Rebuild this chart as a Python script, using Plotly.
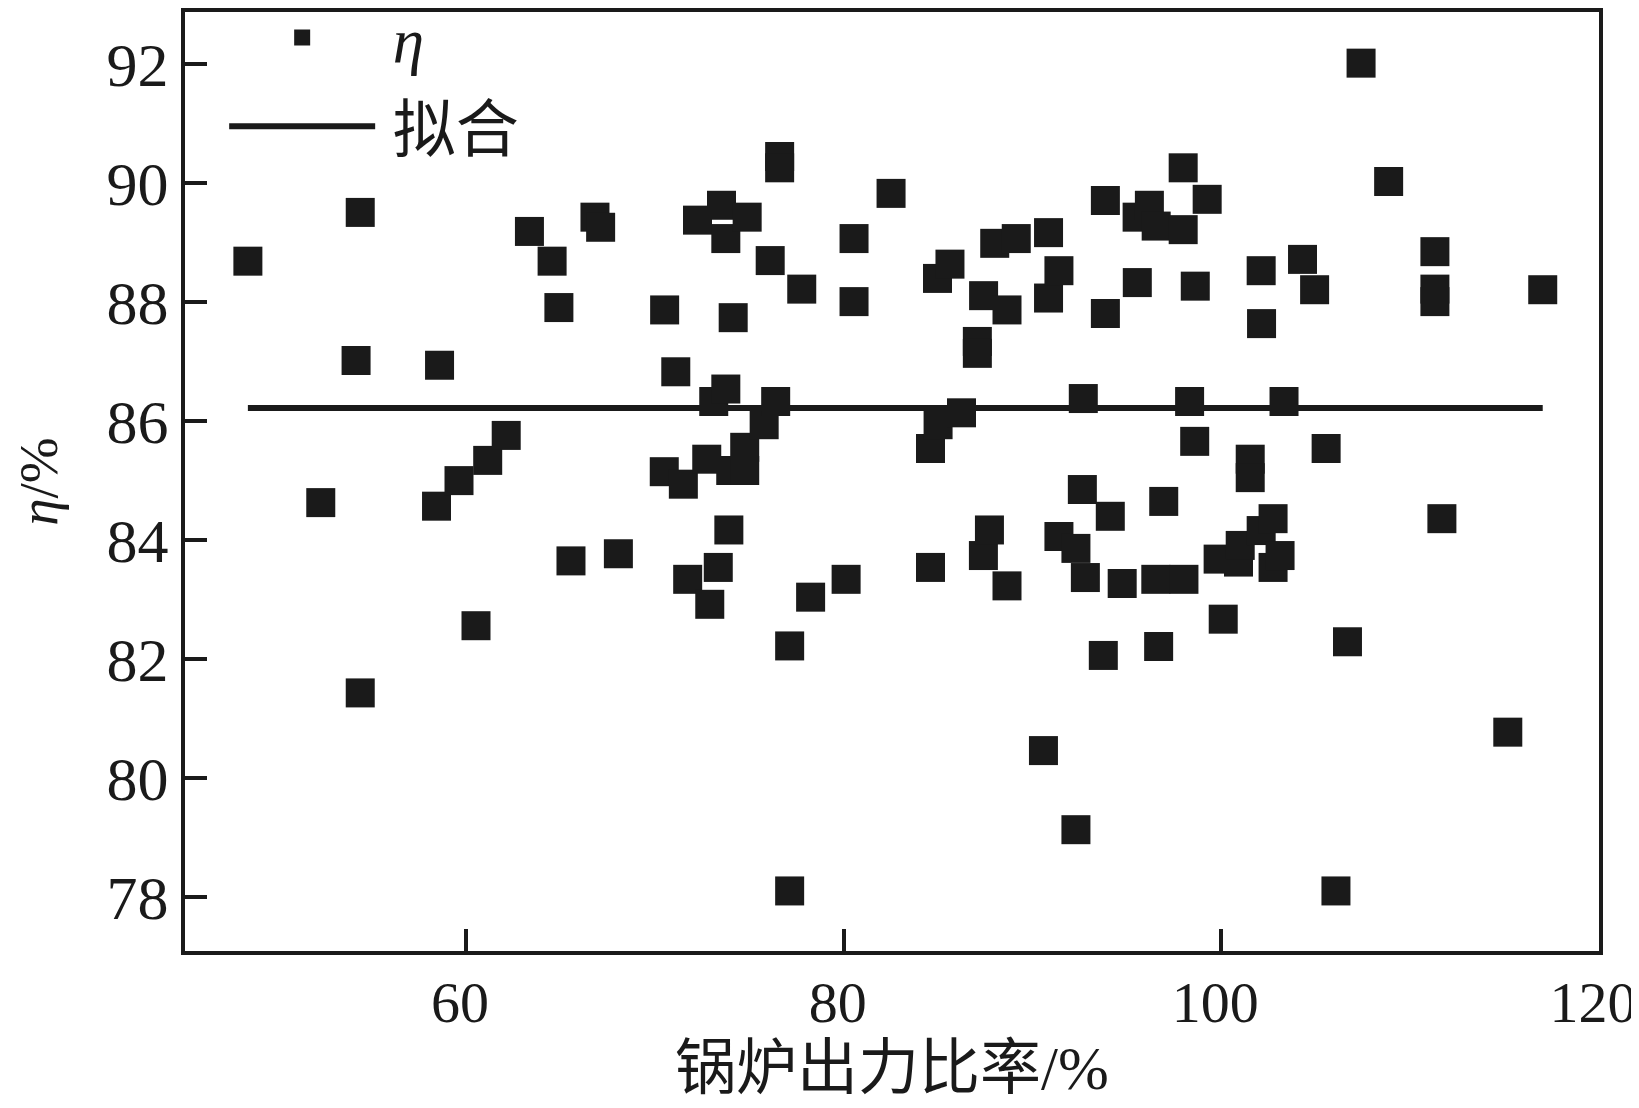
import plotly.graph_objects as go

# boiler output ratio (%)
load_ratio = [48.45, 52.31, 54.18, 54.40, 54.40, 58.44, 58.60, 59.63, 60.53, 61.15,
              62.13, 63.36, 64.56, 64.92, 65.56, 66.83, 67.13, 68.07, 70.50, 70.52,
              71.11, 71.51, 71.74, 72.26, 72.75, 72.91, 73.12, 73.36, 73.53, 73.76,
              73.76, 73.92, 74.02, 74.15, 74.76, 74.76, 74.89, 75.79, 76.11, 76.40,
              76.61, 76.61, 77.14, 77.14, 77.78, 78.25, 80.13, 80.55, 80.55, 82.51,
              84.60, 84.60, 84.97, 85.00, 85.63, 86.24, 87.08, 87.08, 87.40, 87.41,
              87.72, 88.00, 88.65, 88.65, 89.14, 90.58, 90.85, 90.85, 91.40, 91.40,
              92.30, 92.30, 92.64, 92.69, 92.80, 93.75, 93.86, 93.86, 94.12, 94.75,
              95.54, 95.55, 96.19, 96.53, 96.55, 96.68, 96.95, 97.98, 97.98, 98.02,
              98.32, 98.59, 98.62, 99.25, 99.83, 100.10, 100.91, 101.00, 101.53, 101.53,
              102.11, 102.11, 102.13, 102.74, 102.74, 103.11, 103.32, 104.30, 104.94, 105.55,
              106.07, 106.68, 107.40, 108.86, 111.31, 111.31, 111.31, 111.68, 115.17, 117.02]
# efficiency eta (%)
eta = [88.69, 84.63, 87.02, 89.51, 81.43, 84.57, 86.94, 85.00, 82.56, 85.34,
       85.76, 89.19, 88.69, 87.91, 83.65, 89.43, 89.26, 83.77, 85.15, 87.87,
       86.83, 84.94, 83.34, 89.38, 85.36, 82.92, 86.33, 83.54, 89.63, 89.07,
       86.54, 84.17, 85.17, 87.74, 85.17, 85.56, 89.43, 85.94, 88.70, 86.33,
       90.45, 90.26, 82.22, 78.10, 88.22, 83.04, 83.34, 89.07, 88.01, 89.83,
       85.54, 83.54, 88.40, 85.94, 88.64, 86.14, 87.34, 87.14, 83.74, 88.11,
       84.17, 88.99, 87.87, 83.23, 89.07, 80.46, 89.17, 88.07, 88.53, 84.06,
       83.86, 79.13, 84.85, 86.38, 83.37, 82.06, 89.71, 87.81, 84.40, 83.27,
       89.43, 88.33, 89.63, 83.34, 89.28, 82.21, 84.65, 90.26, 89.22, 83.34,
       86.33, 85.66, 88.27, 89.73, 83.68, 82.67, 83.63, 83.91, 85.36, 85.05,
       88.53, 84.16, 87.64, 84.36, 83.54, 83.74, 86.33, 88.72, 88.21, 85.54,
       78.10, 82.29, 92.02, 90.03, 88.85, 88.22, 88.01, 84.36, 80.77, 88.21]

fit_level = 86.22
fit_x = [min(load_ratio), max(load_ratio)]
fit_y = [fit_level, fit_level]

x_ticks = [60, 80, 100, 120]
y_ticks = [78, 80, 82, 84, 86, 88, 90, 92]

INK = "#1a1a1a"
SERIF = "Liberation Serif, Times New Roman, Noto Sans CJK SC, serif"

fig = go.Figure()
fig.add_trace(go.Scatter(
    x=load_ratio, y=eta, mode="markers", name="\u2009<i>η</i>",
    marker=dict(symbol="square", size=29, color=INK, line=dict(width=0)),
    legendgroup="a",
))
fig.add_trace(go.Scatter(
    x=fit_x, y=fit_y, mode="lines", name="\u2009拟合",
    line=dict(color=INK, width=6),
    legendgroup="b",
))

axis_common = dict(
    showline=True, linecolor=INK, linewidth=4, mirror=True,
    ticks="inside", ticklen=22, tickwidth=4, tickcolor=INK,
    showgrid=False, zeroline=False,
)

# the page body adds an 8 px offset, so the figure is 8 px smaller each way
fig.update_layout(
    width=1631, height=1100,
    paper_bgcolor="white", plot_bgcolor="white",
    margin=dict(l=177, r=40, t=4, b=157, autoexpand=False),
    font=dict(family=SERIF, color=INK),
    showlegend=True,
    legend=dict(
        x=0.0277, y=1.0235, xanchor="left", yanchor="top",
        bgcolor="rgba(0,0,0,0)", borderwidth=0,
        font=dict(size=63, family=SERIF, color=INK),
        itemwidth=146, tracegroupgap=4,
    ),
    xaxis=dict(
        range=[45.12, 120.0], tickvals=x_ticks, ticktext=[str(v) for v in x_ticks],
        tickfont=dict(size=58, family=SERIF, color=INK),
        ticklabelstandoff=-3, ticklabelshift=-6, ticklabeloverflow="allow",
        title=dict(text="锅炉出力比率/%", font=dict(size=61, family=SERIF, color=INK), standoff=4),
        **axis_common,
    ),
    yaxis=dict(
        range=[77.09, 92.88], tickvals=y_ticks, ticktext=[str(v) for v in y_ticks],
        tickfont=dict(size=62, family=SERIF, color=INK),
        ticklabelstandoff=0,
        title=dict(text="<i>η</i>/%", font=dict(size=55, family=SERIF, color=INK), standoff=40),
        **axis_common,
    ),
)

fig.write_html("out.html")
